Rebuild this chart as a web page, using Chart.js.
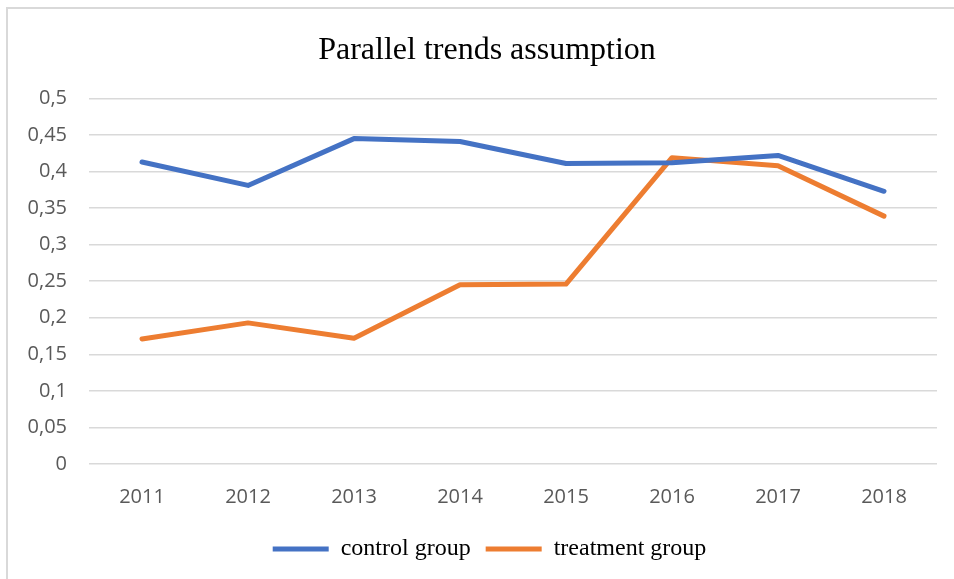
<!DOCTYPE html>
<html>
<head>
<meta charset="utf-8">
<script src="https://cdn.jsdelivr.net/npm/chart.js@4"></script>
<style>
  html, body { margin: 0; padding: 0; background: #fff; }
  #wrap { width: 954px; height: 579px; position: relative; }
</style>
</head>
<body>
<div id="wrap"><canvas id="chart" width="954" height="579"></canvas></div>
<script>
// data
const years     = ['2011', '2012', '2013', '2014', '2015', '2016', '2017', '2018'];
const control   = [0.413, 0.381, 0.445, 0.441, 0.411, 0.412, 0.422, 0.373];
const treatment = [0.171, 0.193, 0.172, 0.245, 0.246, 0.419, 0.408, 0.339];
const yTicks    = [0, 0.05, 0.1, 0.15, 0.2, 0.25, 0.3, 0.35, 0.4, 0.45, 0.5];

const BLUE   = '#4472C4';
const ORANGE = '#ED7D31';

// light grey frame like the excel chart area
const frame = {
  id: 'frame',
  beforeDraw(chart) {
    const ctx = chart.ctx;
    ctx.save();
    ctx.fillStyle = '#fff';
    ctx.fillRect(0, 0, chart.width, chart.height);
    ctx.strokeStyle = '#d9d9d9';
    ctx.lineWidth = 2;
    ctx.strokeRect(7, 8, chart.width + 20, chart.height + 20);
    ctx.restore();
  }
};

// excel centres title + legend on the whole chart area, nudge them right a bit
const nudge = {
  id: 'nudge',
  afterLayout(chart) {
    if (chart.titleBlock) chart.titleBlock.left += 31;
    if (chart.legend) chart.legend.left += 36;
  }
};

const fmt = v => (Math.round(v * 100) / 100).toString().replace('.', ',');

new Chart(document.getElementById('chart'), {
  type: 'line',
  data: {
    labels: years,
    datasets: [
      { label: 'control group', data: control, borderColor: BLUE, backgroundColor: BLUE,
        borderWidth: 5, pointRadius: 0, tension: 0, borderCapStyle: 'round', borderJoinStyle: 'round' },
      { label: 'treatment group', data: treatment, borderColor: ORANGE, backgroundColor: ORANGE,
        borderWidth: 5, pointRadius: 0, tension: 0, borderCapStyle: 'round', borderJoinStyle: 'round' }
    ]
  },
  options: {
    responsive: false,
    animation: false,
    layout: { padding: { left: 6, right: 17, top: 20, bottom: 8 } },
    plugins: {
      title: {
        display: true,
        text: 'Parallel trends assumption',
        color: '#000',
        font: { family: 'Liberation Serif', size: 32, weight: 'normal' },
        padding: { top: 11, bottom: 29 }
      },
      legend: {
        position: 'bottom',
        labels: {
          usePointStyle: true,
          pointStyle: 'line',
          pointStyleWidth: 56,
          boxHeight: 10,
          padding: 15,
          color: '#000',
          font: { family: 'Liberation Serif', size: 24 }
        }
      },
      tooltip: { enabled: false }
    },
    scales: {
      x: {
        offset: true,
        grid: { display: false },
        border: { display: false },
        ticks: { color: '#595959', font: { family: 'Open Sans', size: 20 }, padding: 13 }
      },
      y: {
        min: 0,
        max: 0.5,
        afterBuildTicks: axis => { axis.ticks = yTicks.map(v => ({ value: v })); },
        afterFit: axis => { axis.width = 83; },
        grid: { color: '#d9d9d9', lineWidth: 1.5, drawTicks: false },
        border: { display: false },
        ticks: { color: '#595959', font: { family: 'Open Sans', size: 20 }, padding: 22,
                 callback: v => fmt(v) }
      }
    }
  },
  plugins: [frame, nudge]
});
</script>
</body>
</html>
